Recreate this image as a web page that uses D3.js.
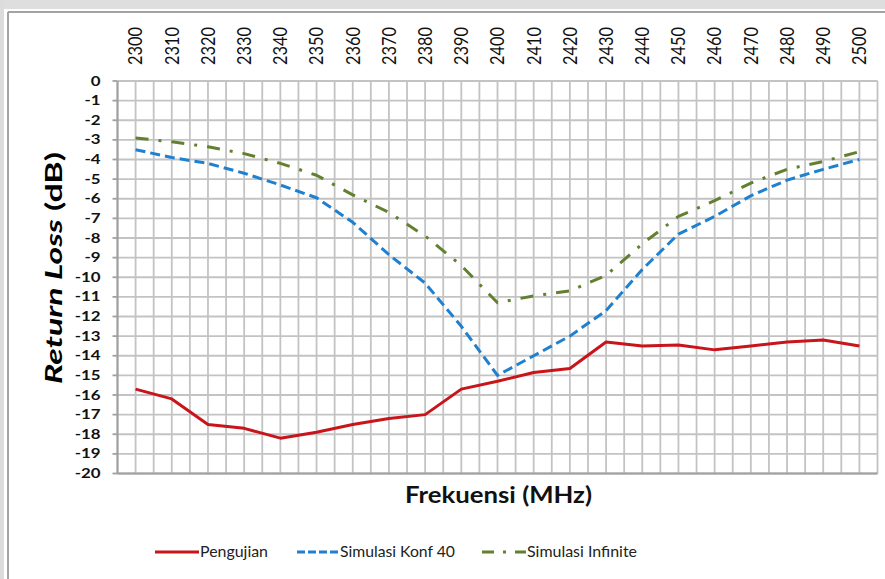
<!DOCTYPE html>
<html>
<head>
<meta charset="utf-8">
<script src="https://cdn.jsdelivr.net/npm/d3@7"></script>
<style>
  html, body { margin: 0; padding: 0; background: #fff; }
  svg { display: block; font-family: Lato, "Open Sans", sans-serif; }
</style>
</head>
<body>
<svg id="chart" width="885" height="579"></svg>
<script>
// Frequency categories (MHz)
const freqs = [2300, 2310, 2320, 2330, 2340, 2350, 2360, 2370, 2380, 2390, 2400,
               2410, 2420, 2430, 2440, 2450, 2460, 2470, 2480, 2490, 2500];
// Return loss values (dB)
const pengujian = [-15.7, -16.2, -17.5, -17.7, -18.2, -17.9, -17.5, -17.2, -17.0, -15.7, -15.3,
                   -14.85, -14.65, -13.3, -13.5, -13.45, -13.7, -13.5, -13.3, -13.2, -13.5];
const konf40 = [-3.5, -3.9, -4.2, -4.7, -5.3, -5.95, -7.2, -8.85, -10.3, -12.5, -15.0,
                -14.0, -13.0, -11.7, -9.6, -7.8, -6.9, -5.85, -5.05, -4.5, -4.0];
const infinite = [-2.9, -3.1, -3.35, -3.7, -4.2, -4.8, -5.8, -6.7, -7.9, -9.4, -11.3,
                  -10.95, -10.7, -9.9, -8.3, -6.9, -6.1, -5.2, -4.5, -4.1, -3.6];
const yTicks = d3.range(0, -21, -1);
const seriesNames = ["Pengujian", "Simulasi Konf 40", "Simulasi Infinite"];

const svg = d3.select("#chart");

// page frame
svg.append("rect").attr("x", 0).attr("y", 0).attr("width", 885).attr("height", 9).attr("fill", "#dedede");
svg.append("rect").attr("x", 0).attr("y", 0).attr("width", 4).attr("height", 579).attr("fill", "#dcdcdc");
svg.append("line").attr("x1", 8).attr("x2", 8).attr("y1", 12).attr("y2", 579)
  .attr("stroke", "#a3a3a3").attr("stroke-width", 2);
svg.append("line").attr("x1", 8).attr("x2", 885).attr("y1", 12).attr("y2", 12)
  .attr("stroke", "#a3a3a3").attr("stroke-width", 2);

const plotL = 117.5, plotR = 877.5, plotT = 81, plotB = 473.5;

const x = d3.scaleBand().domain(freqs).range([plotL, plotR]).paddingInner(0).paddingOuter(0);
const bw = x.bandwidth();
const cx = f => x(f) + bw / 2;
const y = d3.scaleLinear().domain([-20, 0]).range([plotB, plotT]);

// gridlines
const grid = svg.append("g");
const vLines = [];
freqs.forEach(f => { vLines.push(x(f)); vLines.push(cx(f)); });
vLines.push(plotR);
grid.selectAll("line.v").data(vLines).join("line")
  .attr("x1", d => d).attr("x2", d => d).attr("y1", plotT).attr("y2", plotB)
  .attr("stroke", "#c3c3c3").attr("stroke-width", 1.8);
grid.selectAll("line.h").data(yTicks).join("line")
  .attr("x1", plotL).attr("x2", plotR).attr("y1", d => y(d)).attr("y2", d => y(d))
  .attr("stroke", "#c3c3c3").attr("stroke-width", 1.8);

// axis lines and ticks
svg.append("line").attr("x1", plotL).attr("x2", plotL).attr("y1", plotT).attr("y2", plotB)
  .attr("stroke", "#a0a0a0").attr("stroke-width", 2);
svg.append("line").attr("x1", plotL).attr("x2", plotR).attr("y1", plotB).attr("y2", plotB)
  .attr("stroke", "#a0a0a0").attr("stroke-width", 2);
svg.append("g").selectAll("line").data(yTicks).join("line")
  .attr("x1", plotL - 5).attr("x2", plotL).attr("y1", d => y(d)).attr("y2", d => y(d))
  .attr("stroke", "#a0a0a0").attr("stroke-width", 1.8);

// y tick labels
svg.append("g").selectAll("text").data(yTicks).join("text")
  .attr("transform", d => `translate(100.5,${y(d)}) scale(1.35,1)`)
  .attr("dy", "0.36em")
  .attr("text-anchor", "end")
  .attr("font-size", 12.5)
  .attr("font-weight", 700)
  .attr("fill", "#111")
  .text(d => d);

// x tick labels along the top, rotated
svg.append("g").selectAll("text").data(freqs).join("text")
  .attr("transform", d => `translate(${cx(d)},65) rotate(-90)`)
  .attr("dy", "0.36em")
  .attr("text-anchor", "start")
  .attr("font-size", 19)
  .attr("fill", "#111")
  .attr("textLength", 38)
  .attr("lengthAdjust", "spacingAndGlyphs")
  .text(d => d);

// axis titles
const yt = svg.append("text")
  .attr("transform", "translate(62,268) rotate(-90)")
  .attr("text-anchor", "middle")
  .attr("font-size", 23)
  .attr("font-weight", 700)
  .attr("fill", "#000")
  .attr("textLength", 232)
  .attr("lengthAdjust", "spacingAndGlyphs");
yt.append("tspan").attr("font-style", "italic").text("Return Loss");
yt.append("tspan").text(" (dB)");

svg.append("text")
  .attr("x", 498.5).attr("y", 503)
  .attr("text-anchor", "middle")
  .attr("font-size", 23)
  .attr("font-weight", 700)
  .attr("fill", "#111")
  .attr("textLength", 187)
  .attr("lengthAdjust", "spacingAndGlyphs")
  .text("Frekuensi (MHz)");

// series
const styles = [
  { values: pengujian, color: "#c8141b", dash: null },
  { values: konf40, color: "#2080d0", dash: "10,5" },
  { values: infinite, color: "#62802f", dash: "13,10,3,10" }
];
const line = d3.line().x(d => cx(d.f)).y(d => y(d.v));
styles.forEach(s => {
  const pts = freqs.map((f, i) => ({ f, v: s.values[i] }));
  svg.append("path").datum(pts)
    .attr("d", line)
    .attr("fill", "none")
    .attr("stroke", s.color)
    .attr("stroke-width", 3)
    .attr("stroke-linejoin", "round")
    .attr("stroke-dasharray", s.dash);
});

// legend
const legendPos = [
  { x1: 155, x2: 199, tx: 200, tw: 68 },
  { x1: 297, x2: 339, tx: 340, tw: 115 },
  { x1: 482, x2: 526, tx: 527, tw: 110 }
];
const lg = svg.append("g");
seriesNames.forEach((name, i) => {
  const p = legendPos[i], s = styles[i];
  lg.append("line").attr("x1", p.x1).attr("x2", p.x2).attr("y1", 552).attr("y2", 552)
    .attr("stroke", s.color).attr("stroke-width", 3)
    .attr("stroke-dasharray", i === 1 ? "8,3" : (i === 2 ? "12,9,3,9" : null));
  lg.append("text").attr("x", p.tx).attr("y", 557)
    .attr("font-size", 15).attr("fill", "#222")
    .attr("textLength", p.tw).attr("lengthAdjust", "spacingAndGlyphs")
    .text(name);
});
</script>
</body>
</html>
